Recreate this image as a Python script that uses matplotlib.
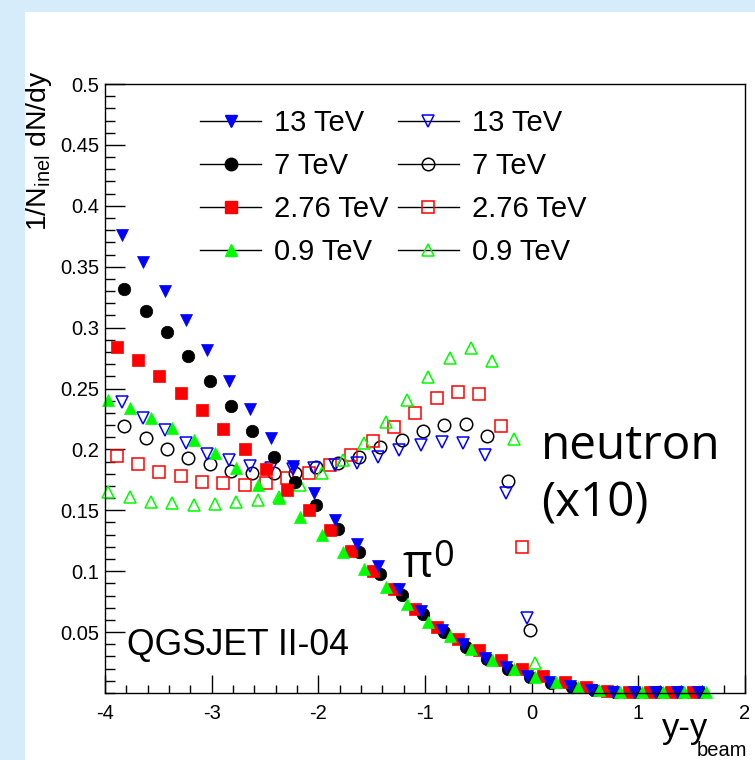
import numpy as np
import matplotlib.pyplot as plt
from matplotlib.lines import Line2D
from matplotlib.patches import Rectangle
from matplotlib.ticker import MultipleLocator

plt.rcParams['font.family'] = ['Liberation Sans', 'DejaVu Sans']
plt.rcParams['mathtext.fontset'] = 'custom'
plt.rcParams['mathtext.rm'] = 'Liberation Sans'
plt.rcParams['mathtext.it'] = 'Liberation Sans'
plt.rcParams['axes.unicode_minus'] = False

# bin centres in y - y_beam for each energy
x_13 = [-3.84, -3.64, -3.44, -3.24, -3.04, -2.84, -2.64, -2.44, -2.24, -2.04,
        -1.84, -1.64, -1.44, -1.24, -1.04, -0.84, -0.64, -0.44, -0.24, -0.04,
        0.16, 0.36, 0.56, 0.76, 0.96, 1.16, 1.36, 1.56]
x_7 = [-3.82, -3.62, -3.42, -3.22, -3.02, -2.82, -2.62, -2.42, -2.22, -2.02,
       -1.82, -1.62, -1.42, -1.22, -1.02, -0.82, -0.62, -0.42, -0.22, -0.02,
       0.18, 0.38, 0.58, 0.78, 0.98, 1.18, 1.38, 1.58]
x_276 = [-3.89, -3.69, -3.49, -3.29, -3.09, -2.89, -2.69, -2.49, -2.29, -2.09,
         -1.89, -1.69, -1.49, -1.29, -1.09, -0.89, -0.69, -0.49, -0.29, -0.09,
         0.11, 0.31, 0.51, 0.71, 0.91, 1.11, 1.31, 1.51]
x_09 = [-3.97, -3.77, -3.57, -3.37, -3.17, -2.97, -2.77, -2.57, -2.37, -2.17,
        -1.97, -1.77, -1.57, -1.37, -1.17, -0.97, -0.77, -0.57, -0.37, -0.17,
        0.03, 0.23, 0.43, 0.63, 0.83, 1.03, 1.23, 1.43, 1.63]

# pi0
pi0_13 = [0.376, 0.354, 0.330, 0.306, 0.282, 0.256, 0.233, 0.209, 0.186, 0.164,
          0.142, 0.122, 0.104, 0.085, 0.067, 0.052, 0.040, 0.029, 0.021, 0.014,
          0.0092, 0.0056, 0.0028, 0.0012, 0.0007, 0.0005, 0.0005, 0.0005]
pi0_7 = [0.332, 0.314, 0.296, 0.277, 0.256, 0.236, 0.215, 0.194, 0.1735, 0.154,
         0.135, 0.116, 0.098, 0.0805, 0.065, 0.050, 0.038, 0.028, 0.020, 0.0135,
         0.0085, 0.005, 0.0025, 0.0012, 0.0007, 0.0005, 0.0005, 0.0005]
pi0_276 = [0.284, 0.273, 0.260, 0.2465, 0.232, 0.2165, 0.200, 0.1837, 0.167, 0.150,
           0.134, 0.1166, 0.100, 0.085, 0.069, 0.054, 0.044, 0.035, 0.027, 0.020,
           0.014, 0.009, 0.005, 0.002, 0.001, 0.0007, 0.0005, 0.0005]
pi0_09 = [0.2405, 0.234, 0.2255, 0.2173, 0.2077, 0.1968, 0.1845, 0.1708, 0.160, 0.1447,
          0.1297, 0.116, 0.1018, 0.0868, 0.073, 0.0585, 0.047, 0.036, 0.027, 0.0195,
          0.0132, 0.009, 0.005, 0.0025, 0.0012, 0.0007, 0.0005, 0.0005, 0.0005]

# neutron (x10)
n_13 = [0.2392, 0.2255, 0.2159, 0.2055, 0.196, 0.1915, 0.186, 0.185, 0.184, 0.185,
        0.1872, 0.1886, 0.194, 0.1995, 0.2036, 0.2063, 0.205, 0.1954, 0.1644, 0.0613]
n_7 = [0.2192, 0.2091, 0.2001, 0.1932, 0.1878, 0.1825, 0.1809, 0.1804, 0.1809, 0.1858,
       0.1886, 0.194, 0.2017, 0.2077, 0.2154, 0.220, 0.2209, 0.211, 0.1743, 0.0517]
n_276 = [0.1946, 0.188, 0.1817, 0.1782, 0.1735, 0.1722, 0.1708, 0.1722, 0.1763, 0.1809,
         0.1872, 0.195, 0.2071, 0.2186, 0.2301, 0.2419, 0.2474, 0.2455, 0.2194, 0.120]
n_09 = [0.1653, 0.1612, 0.157, 0.1557, 0.1544, 0.155, 0.1566, 0.1585, 0.1612, 0.1708,
        0.1804, 0.191, 0.2055, 0.2227, 0.2406, 0.2597, 0.2748, 0.283, 0.2728, 0.2083, 0.025]

labels = ['13 TeV', '7 TeV', '2.76 TeV', '0.9 TeV']
colors = ['#0000ff', '#000000', '#ff0000', '#00ff00']
markers = ['v', 'o', 's', '^']

xs = [x_13, x_7, x_276, x_09]
pi0 = [pi0_13, pi0_7, pi0_276, pi0_09]
neut = [n_13, n_7, n_276, n_09]

fig = plt.figure(figsize=(7.55, 7.6), dpi=100)
fig.patch.set_facecolor('#d6ecfb')
fig.add_artist(Rectangle((25 / 755, 0), 730 / 755, 748 / 760, transform=fig.transFigure,
                         facecolor='white', edgecolor='none', zorder=-5))

ax = fig.add_axes([105 / 755, 67 / 760, 640 / 755, 609 / 760])
ax.set_facecolor('none')

ms = 9
draw_order = [1, 2, 0, 3]
for i in draw_order:
    n = len(neut[i])
    ax.plot(xs[i][:n], neut[i], ls='none', marker=markers[i], ms=ms, mfc='none',
            mec=colors[i], mew=1.1, clip_on=False)
for i in draw_order:
    ax.plot(xs[i], pi0[i], ls='none', marker=markers[i], ms=ms if markers[i] != 's' else 8.5,
            mfc=colors[i], mec=colors[i], mew=0.5, clip_on=False)

ax.set_xlim(-4, 2)
ax.set_ylim(0, 0.5)
ax.xaxis.set_major_locator(MultipleLocator(1))
ax.xaxis.set_minor_locator(MultipleLocator(0.2))
yt = [0.05, 0.1, 0.15, 0.2, 0.25, 0.3, 0.35, 0.4, 0.45, 0.5]
ax.set_yticks(yt)
ax.set_yticklabels(['%g' % v for v in yt])
ax.yaxis.set_minor_locator(MultipleLocator(0.01))
ax.tick_params(axis='both', which='both', direction='in', top=False, right=False,
               labelsize=14.5, width=1)
ax.tick_params(axis='x', which='major', length=13, pad=8)
ax.tick_params(axis='x', which='minor', length=6)
ax.tick_params(axis='y', which='major', length=14.5, pad=4)
ax.tick_params(axis='y', which='minor', length=7)
for s in ax.spines.values():
    s.set_linewidth(1)

# axis titles (ROOT style: at the ends of the axes)
xlab = ax.set_xlabel('y-y', fontsize=25)
xlab.set_ha('right')
xlab.set_va('baseline')
ax.xaxis.set_label_coords(0.942, -0.074)
ax.text(1.003, -0.103, 'beam', transform=ax.transAxes, fontsize=14.5,
        ha='right', va='baseline', clip_on=False)

ylab = ax.set_ylabel(r'1/N$_{\rm inel}$ dN/dy', fontsize=20.5)
ylab.set_rotation_mode('default')
ylab.set_ha('right')
ylab.set_va('top')
ax.yaxis.set_label_coords(-0.08, 1.023)

# legend
handles = []
for i in range(4):
    handles.append(Line2D([], [], color='black', lw=1, marker=markers[i], ms=ms,
                          mfc=colors[i], mec=colors[i]))
for i in range(4):
    handles.append(Line2D([], [], color='black', lw=1, marker=markers[i], ms=ms,
                          mfc='none', mec=colors[i], mew=1.1))
ax.legend(handles, labels + labels, ncol=2, loc='upper left', frameon=False,
          bbox_to_anchor=((200 - 105) / 640, 0.959), fontsize=21,
          handlelength=2.1, handletextpad=0.45, columnspacing=0.3, labelspacing=0.52,
          borderpad=0, borderaxespad=0, numpoints=1)

ax.text(0.035, 0.062, 'QGSJET II-04', transform=ax.transAxes, fontsize=25.6)
ax.text(0.681, (693 - 459) / 609, 'neutron', transform=ax.transAxes, fontsize=34.3,
        family='Open Sans', va='baseline')
ax.text(0.681, (693 - 516) / 609, '(x10)', transform=ax.transAxes, fontsize=34.3,
        family='Open Sans', va='baseline')
ax.text(0.465, 0.19, 'π', transform=ax.transAxes, fontsize=33, family='Open Sans')
ax.text(0.512, 0.209, '0', transform=ax.transAxes, fontsize=26, family='Open Sans')

fig.savefig('out.png', dpi=100, facecolor=fig.get_facecolor())
